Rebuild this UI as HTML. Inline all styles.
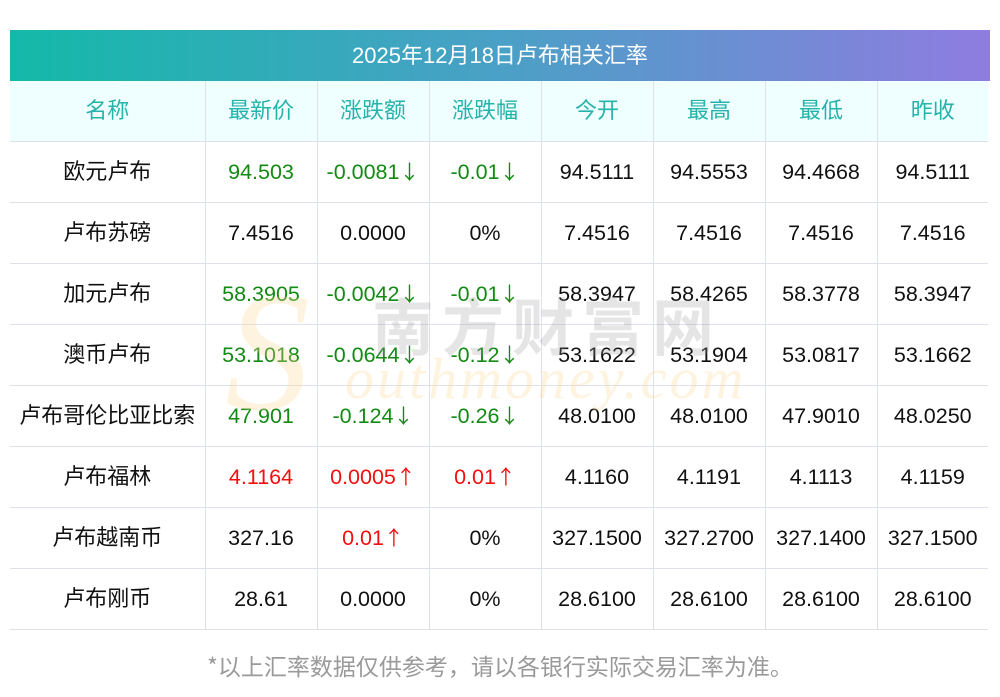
<!DOCTYPE html>
<html><head><meta charset="utf-8"><style>
body{margin:0;width:1000px;height:697px;background:#fff;position:relative;overflow:hidden;font-family:"Liberation Sans","Noto Sans CJK SC",sans-serif;}
.hdr{position:absolute;left:10px;top:30px;width:980px;height:51px;background:linear-gradient(90deg,#14b9a9,#4aa0c6 50%,#8f7ce0);color:#fff;font-size:22px;line-height:51px;text-align:center;}
table{position:absolute;left:10px;top:81px;border-collapse:collapse;table-layout:fixed;}
td{border:1px solid #dfe1ea;height:60px;text-align:center;font-size:21.5px;color:#111;padding:0;white-space:nowrap;line-height:20px;}
tr:first-child td{border-top:none;}
td:first-child{border-left:none;}
td:last-child{border-right:none;}
.c{font-family:"Noto Sans CJK SC",sans-serif;font-size:22px;line-height:22px;display:inline-block;vertical-align:middle;position:relative;top:-2px;}
tr.h td{background:#effefe;color:#25b3ab;}
.a{font-family:"Noto Sans CJK SC",sans-serif;font-size:20px;line-height:0;}
.g{color:#138a13}.r{color:#f01010}
.wm{position:absolute;z-index:2;pointer-events:none;}
.foot{position:absolute;top:650px;left:0;width:1000px;text-align:center;color:#9a9a9a;font-size:23px;font-family:"Noto Sans CJK SC",sans-serif;line-height:30px;}
</style></head><body>
<div class="hdr">2025年12月18日卢布相关汇率</div>
<table>
<colgroup><col style="width:195px"><col style="width:112px"><col style="width:112px"><col style="width:112px"><col style="width:112px"><col style="width:112px"><col style="width:112px"><col style="width:111px"></colgroup>
<tr class="h"><td><span class="c">名称</span></td><td><span class="c">最新价</span></td><td><span class="c">涨跌额</span></td><td><span class="c">涨跌幅</span></td><td><span class="c">今开</span></td><td><span class="c">最高</span></td><td><span class="c">最低</span></td><td><span class="c">昨收</span></td></tr>
<tr><td><span class="c">欧元卢布</span></td><td class="g">94.503</td><td class="g">-0.0081<span class="a">↓</span></td><td class="g">-0.01<span class="a">↓</span></td><td>94.5111</td><td>94.5553</td><td>94.4668</td><td>94.5111</td></tr>
<tr><td><span class="c">卢布苏磅</span></td><td>7.4516</td><td>0.0000</td><td>0%</td><td>7.4516</td><td>7.4516</td><td>7.4516</td><td>7.4516</td></tr>
<tr><td><span class="c">加元卢布</span></td><td class="g">58.3905</td><td class="g">-0.0042<span class="a">↓</span></td><td class="g">-0.01<span class="a">↓</span></td><td>58.3947</td><td>58.4265</td><td>58.3778</td><td>58.3947</td></tr>
<tr><td><span class="c">澳币卢布</span></td><td class="g">53.1018</td><td class="g">-0.0644<span class="a">↓</span></td><td class="g">-0.12<span class="a">↓</span></td><td>53.1622</td><td>53.1904</td><td>53.0817</td><td>53.1662</td></tr>
<tr><td><span class="c">卢布哥伦比亚比索</span></td><td class="g">47.901</td><td class="g">-0.124<span class="a">↓</span></td><td class="g">-0.26<span class="a">↓</span></td><td>48.0100</td><td>48.0100</td><td>47.9010</td><td>48.0250</td></tr>
<tr><td><span class="c">卢布福林</span></td><td class="r">4.1164</td><td class="r">0.0005<span class="a">↑</span></td><td class="r">0.01<span class="a">↑</span></td><td>4.1160</td><td>4.1191</td><td>4.1113</td><td>4.1159</td></tr>
<tr><td><span class="c">卢布越南币</span></td><td>327.16</td><td class="r">0.01<span class="a">↑</span></td><td>0%</td><td>327.1500</td><td>327.2700</td><td>327.1400</td><td>327.1500</td></tr>
<tr><td><span class="c">卢布刚币</span></td><td>28.61</td><td>0.0000</td><td>0%</td><td>28.6100</td><td>28.6100</td><td>28.6100</td><td>28.6100</td></tr>
</table>
<div class="wm" style="left:225px;top:255px;font:italic 170px 'Liberation Serif',serif;color:rgba(253,215,150,0.3);">S</div>
<div class="wm" style="left:372px;top:288px;font-size:62px;letter-spacing:8px;color:rgba(150,150,150,0.25);font-weight:bold;font-family:'Noto Sans CJK SC',sans-serif;line-height:70px;">南方财富网</div>
<div class="wm" style="left:345px;top:345px;font:italic 58px 'Liberation Serif',serif;color:rgba(253,215,150,0.3);letter-spacing:3px;">outhmoney.com</div>
<div class="foot">*以上汇率数据仅供参考，请以各银行实际交易汇率为准。</div>
</body></html>
